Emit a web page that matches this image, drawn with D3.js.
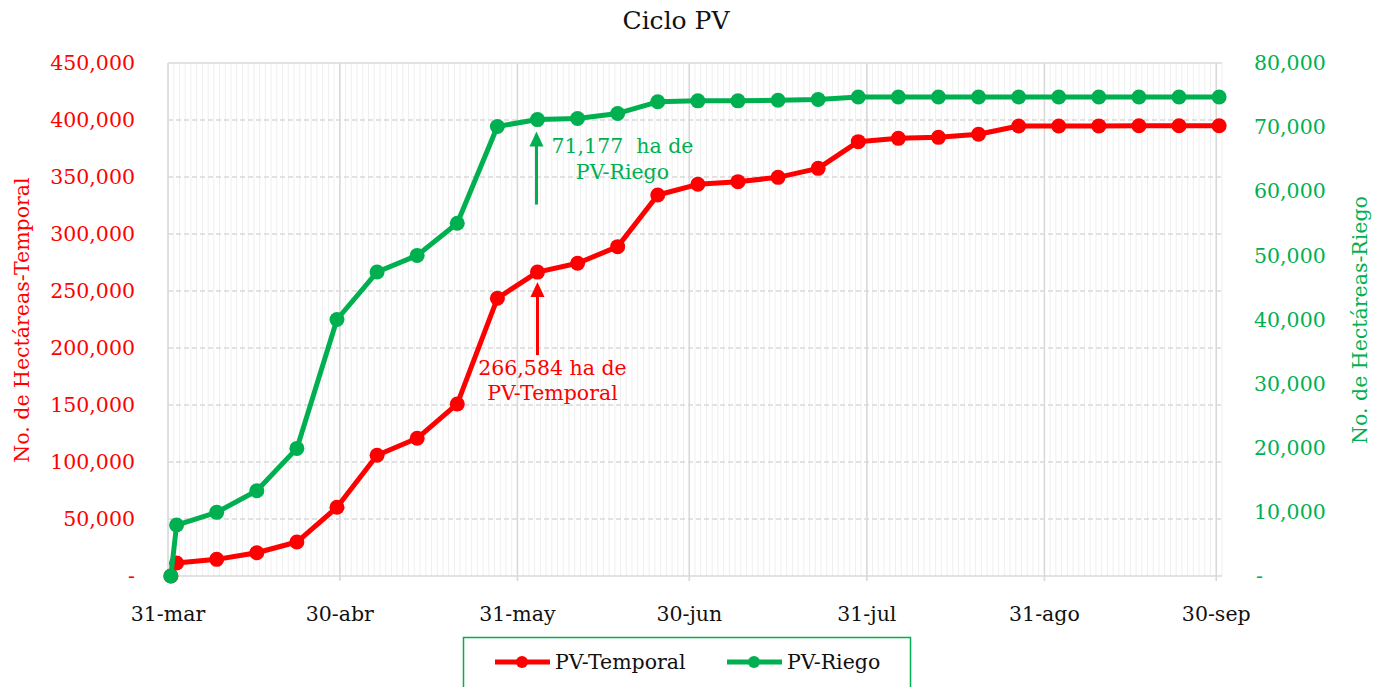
<!DOCTYPE html>
<html><head><meta charset="utf-8">
<script src="https://cdn.jsdelivr.net/npm/d3@7"></script>
<style>
html,body{margin:0;padding:0;background:#fff;}
svg{display:block;font-family:"DejaVu Serif",serif;}
</style></head>
<body><svg id="c" width="1378" height="687"></svg>
<script>
// ---- data ----
const dates = ["2023-03-31","2023-04-01","2023-04-08","2023-04-15","2023-04-22","2023-04-29","2023-05-06","2023-05-13","2023-05-20","2023-05-27","2023-06-03","2023-06-10","2023-06-17","2023-06-24","2023-07-01","2023-07-08","2023-07-15","2023-07-22","2023-07-29","2023-08-05","2023-08-12","2023-08-19","2023-08-26","2023-09-02","2023-09-09","2023-09-16","2023-09-23","2023-09-30"];
const temporal = [0,11400,14600,20400,29800,60300,105900,120800,150900,243600,266584,274300,288900,334200,343600,345900,349700,357600,381000,383900,384800,387500,394700,394700,394800,394900,395000,395000];
const riego = [0,7950,9930,13300,19900,40000,47400,50000,55000,70100,71177,71350,72130,73950,74100,74100,74200,74300,74700,74700,74700,74700,74700,74700,74700,74700,74700,74700];
const leftTicks = [0,50000,100000,150000,200000,250000,300000,350000,400000,450000];
const rightTicks = [0,10000,20000,30000,40000,50000,60000,70000,80000];
const xTickDates = ["2023-03-31","2023-04-30","2023-05-31","2023-06-30","2023-07-31","2023-08-31","2023-09-30"];
const xTickLabels = ["31-mar","30-abr","31-may","30-jun","31-jul","31-ago","30-sep"];
const seriesNames = ["PV-Temporal","PV-Riego"];
const title = "Ciclo PV";
const leftTitle = "No. de Hectáreas-Temporal";
const rightTitle = "No. de Hectáreas-Riego";
const annoTemporal = ["266,584 ha de","PV-Temporal"];
const annoRiego = ["71,177  ha de","PV-Riego"];

// ---- setup ----
const RED="#FF0000", GREEN="#00B050", GRID="#d9d9d9";
const svg = d3.select("#c");
const pd = d3.utcParse("%Y-%m-%d");
const D = dates.map(pd);
const L = {left:168, right:1222, top:63, bottom:576};
const x = d3.scaleUtc().domain([pd("2023-03-31"), pd("2023-10-01")]).range([L.left, L.right]);
// points sit in the middle of their day slot
const xp = d => x(d3.utcHour.offset(d, 12));
const yL = d3.scaleLinear().domain([0,450000]).range([L.bottom, L.top]);
const yR = d3.scaleLinear().domain([0,80000]).range([L.bottom, L.top]);
const fmt = v => v===0 ? "-" : d3.format(",")(v);

// minor daily gridlines
const days = d3.utcDay.range(pd("2023-03-31"), pd("2023-10-02"));
svg.append("g").selectAll("line").data(days).join("line")
  .attr("x1",d=>x(d)).attr("x2",d=>x(d)).attr("y1",L.top).attr("y2",L.bottom)
  .attr("stroke","#efefef").attr("stroke-width",1);
// horizontal dashed gridlines
svg.append("g").selectAll("line").data(leftTicks.slice(1,-1)).join("line")
  .attr("x1",L.left).attr("x2",L.right).attr("y1",d=>yL(d)).attr("y2",d=>yL(d))
  .attr("stroke",GRID).attr("stroke-width",1.3).attr("stroke-dasharray","5,3");
// plot border top
svg.append("line").attr("x1",L.left).attr("x2",L.right).attr("y1",L.top).attr("y2",L.top).attr("stroke",GRID).attr("stroke-width",1.5);
// major month gridlines
const XT = xTickDates.map(pd);
svg.append("g").selectAll("line").data(XT).join("line")
  .attr("x1",d=>x(d)).attr("x2",d=>x(d)).attr("y1",L.top).attr("y2",L.bottom+5)
  .attr("stroke",GRID).attr("stroke-width",1.6);
// bottom axis line
svg.append("line").attr("x1",L.left).attr("x2",L.right).attr("y1",L.bottom).attr("y2",L.bottom).attr("stroke",GRID).attr("stroke-width",1.6);

// axes labels
svg.append("g").selectAll("text").data(leftTicks).join("text")
  .attr("x",135).attr("y",d=>yL(d)).attr("dy","0.35em").attr("text-anchor","end")
  .attr("font-size",20.5).attr("fill",RED).text(fmt);
svg.append("g").selectAll("text").data(rightTicks).join("text")
  .attr("x",d=>d===0?1256:1254).attr("y",d=>yR(d)).attr("dy","0.35em").attr("text-anchor","start")
  .attr("font-size",20.5).attr("fill",GREEN).text(fmt);
svg.append("g").selectAll("text").data(XT).join("text")
  .attr("x",d=>x(d)).attr("y",614).attr("dy","0.35em").attr("text-anchor","middle")
  .attr("font-size",20.5).attr("fill","#111").text((d,i)=>xTickLabels[i]);

// titles
svg.append("text").attr("x",676).attr("y",20).attr("dy","0.35em").attr("text-anchor","middle")
  .attr("font-size",25).attr("fill","#111").text(title);
svg.append("text").attr("transform","translate(22,320) rotate(-90)").attr("dy","0.35em")
  .attr("text-anchor","middle").attr("font-size",20.5).attr("fill",RED).text(leftTitle);
svg.append("text").attr("transform","translate(1360,320) rotate(-90)").attr("dy","0.35em")
  .attr("text-anchor","middle").attr("font-size",20.5).attr("fill",GREEN).text(rightTitle);

// series
function drawSeries(vals, yS, color){
  const line = d3.line().x((d,i)=>xp(D[i])).y(d=>yS(d));
  svg.append("path").datum(vals).attr("d",line).attr("fill","none")
    .attr("stroke",color).attr("stroke-width",5).attr("stroke-linejoin","round");
  svg.append("g").selectAll("circle").data(vals).join("circle")
    .attr("cx",(d,i)=>xp(D[i])).attr("cy",d=>yS(d)).attr("r",7.5).attr("fill",color);
}
drawSeries(temporal, yL, RED);
drawSeries(riego, yR, GREEN);

// annotations
function arrow(ax, yTip, len, color){
  svg.append("line").attr("x1",ax).attr("x2",ax).attr("y1",yTip+12).attr("y2",yTip+len)
    .attr("stroke",color).attr("stroke-width",3);
  svg.append("path").attr("d",`M${ax},${yTip} L${ax-7},${yTip+15} L${ax+7},${yTip+15} Z`).attr("fill",color);
}
const iAnn = 10;
const xa = xp(D[iAnn]);
arrow(xa, yL(temporal[iAnn])+10, 73, RED);
arrow(xa-1, yR(riego[iAnn])+12, 73, GREEN);
svg.append("g").selectAll("text").data(annoTemporal).join("text")
  .attr("x",xa+15).attr("y",(d,i)=>yL(temporal[iAnn])+96+i*25).attr("dy","0.35em")
  .attr("text-anchor","middle").attr("font-size",20.5).attr("fill",RED).attr("xml:space","preserve").text(d=>d);
svg.append("g").selectAll("text").data(annoRiego).join("text")
  .attr("x",xa+85).attr("y",(d,i)=>yR(riego[iAnn])+26+i*26).attr("dy","0.35em")
  .attr("text-anchor","middle").attr("font-size",20.5).attr("fill",GREEN).attr("xml:space","preserve").text(d=>d);

// legend
svg.append("rect").attr("x",463.5).attr("y",637.5).attr("width",447).attr("height",60)
  .attr("fill","none").attr("stroke",GREEN).attr("stroke-width",1.5);
const legItems = [{name:seriesNames[0],color:RED,x:495},{name:seriesNames[1],color:GREEN,x:727}];
const lg = svg.append("g").selectAll("g").data(legItems).join("g");
lg.append("line").attr("x1",d=>d.x).attr("x2",d=>d.x+55).attr("y1",662).attr("y2",662)
  .attr("stroke",d=>d.color).attr("stroke-width",5);
lg.append("circle").attr("cx",d=>d.x+27).attr("cy",662).attr("r",6).attr("fill",d=>d.color);
lg.append("text").attr("x",d=>d.x+60).attr("y",662).attr("dy","0.35em").attr("font-size",20.5)
  .attr("fill","#111").text(d=>d.name);
</script></body></html>
